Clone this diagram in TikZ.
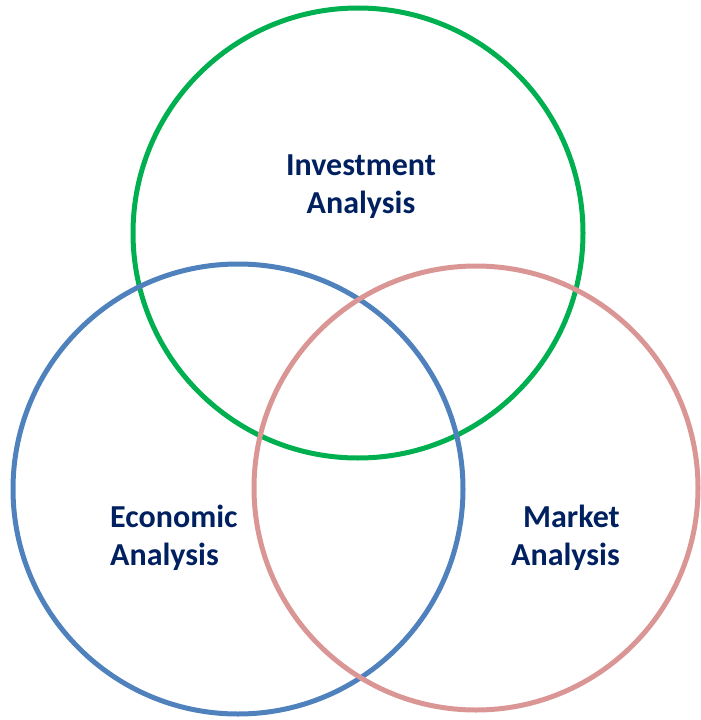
\documentclass[tikz,border=0pt]{standalone}
\usepackage{fontspec}
\setmainfont{Carlito}
\definecolor{invgreen}{HTML}{00B050}
\definecolor{ecoblue}{HTML}{4F81BD}
\definecolor{mktpink}{HTML}{D99694}
\definecolor{labelnavy}{HTML}{002060}
\tikzset{
  ring/.style={line width=5pt},
  area/.style={inner sep=0pt,text=labelnavy,font=\fontsize{32}{38}\selectfont\bfseries}
}
\begin{document}
\begin{tikzpicture}[x=1pt,y=-1pt]
\useasboundingbox (0,0) rectangle (701,720);
% the three circles
\draw[ring,invgreen] (358,233) circle (225);
\draw[ring,ecoblue] (238,489) circle (225);
\draw[ring,mktpink] (476,488) circle (222);
% the labels
\node[area,align=center] (inv) at (361,187) {Investment\\Analysis};
\node[area,align=left,anchor=west] (eco) at (110,538) {Economic\\Analysis};
\node[area,align=right,anchor=east] (mkt) at (620,538) {Market\\Analysis};
\end{tikzpicture}
\end{document}
